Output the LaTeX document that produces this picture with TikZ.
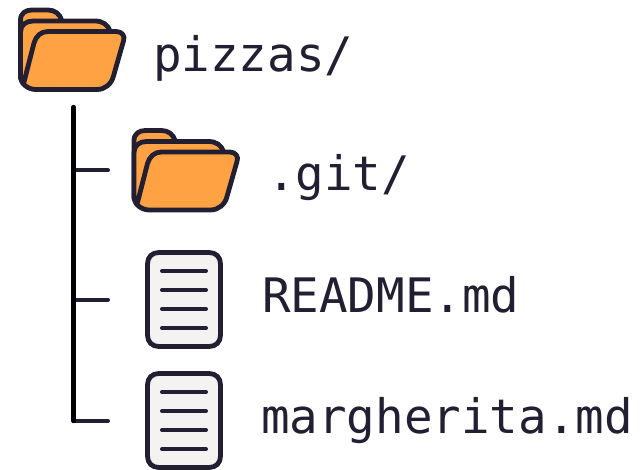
\documentclass[tikz,border=0pt]{standalone}
\usepackage{fontspec}
\setmonofont{DejaVu Sans Mono}
\definecolor{ink}{HTML}{231F33}
\definecolor{folderfill}{HTML}{FFA244}
\definecolor{docfill}{HTML}{F4F3F2}
\tikzset{
  outline/.style={draw=ink,line width=4.8pt,line join=round,line cap=round},
  rule/.style={draw=ink,line width=4pt,line cap=round},
  stem/.style={draw=black,line width=4.4pt,line cap=round},
  label/.style={anchor=base west,inner sep=0pt,font=\ttfamily\fontsize{47.5pt}{47.5pt}\selectfont,text=ink},
  pics/folder/.style={code={
    \path[outline,fill=folderfill] (20.5,60) -- (20.5,20) .. controls (20.5,13) and (26,10) .. (32,10) -- (48,10)
      .. controls (55,10) and (60,14) .. (62,21) -- (62,30) -- (30,40) -- (20.5,75) -- cycle;
    \path[outline,fill=folderfill] (20.5,78) -- (20.5,32) .. controls (20.5,25) and (26,21) .. (33,21) -- (95,21)
      .. controls (103,21) and (108,25) .. (110,31) -- (110,50) -- (40,80) -- cycle;
    \path[outline,fill=folderfill] (48,31.5) -- (116,31.5) .. controls (122,31.5) and (125.5,36) .. (123.5,41)
      -- (113.5,76) .. controls (111.5,84) and (105,89.5) .. (97,89.5) -- (36,89.5)
      .. controls (28,89.5) and (20.5,84) .. (20.5,76) .. controls (20.5,79) and (23,82) .. (24,82)
      -- (34,43) .. controls (36,36) and (41,31.5) .. (48,31.5) -- cycle;
  }},
  pics/textdoc/.style={code={
    \path[outline,fill=docfill] (147.5,264) .. controls (147.5,257) and (152,252.5) .. (159,252.5) -- (209,252.5)
      .. controls (216,252.5) and (220.5,257) .. (220.5,264) -- (220.5,335) .. controls (220.5,342) and (216,346.5) .. (209,346.5)
      -- (159,346.5) .. controls (152,346.5) and (147.5,342) .. (147.5,335) -- cycle;
    \foreach \yy in {271,290,309,328} \draw[rule] (162,\yy) -- (206,\yy);
  }}
}
\begin{document}
\begin{tikzpicture}[x=1pt,y=-1pt]
\useasboundingbox (0,0) rectangle (642,470);
\pic at (0,0) {folder};
\pic at (113.5,120.5) {folder};
\pic at (0,0) {textdoc};
\pic at (0,121) {textdoc};
\node[label] (root) at (153,72) {pizzas/};
\node[label] (git) at (267,191) {.git/};
\node[label] (readme) at (262,312) {README.md};
\node[label] (marg) at (261,433) {margherita.md};
\coordinate (top) at (73.5,107);
\coordinate (bottom) at (73.5,421);
\coordinate (j1) at (73.5,170.5);
\coordinate (j2) at (73.5,299.5);
\coordinate (e1) at (108,170.5);
\coordinate (e2) at (108,299.5);
\coordinate (e3) at (108,421);
\draw[rule] (j1) -- (e1);
\draw[rule] (j2) -- (e2);
\draw[rule] (bottom) -- (e3);
\draw[stem] (top) -- (bottom);
\end{tikzpicture}
\end{document}
